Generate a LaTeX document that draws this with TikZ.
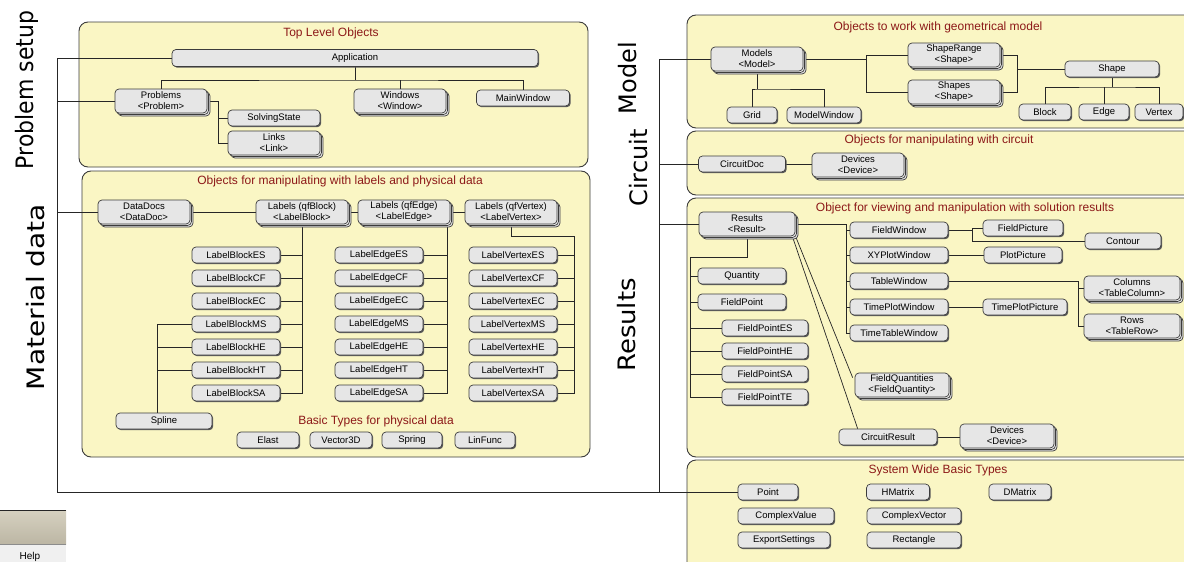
\documentclass[tikz,border=0pt]{standalone}
\usepackage{fontspec}
\setmainfont{Liberation Sans}
\newfontfamily\sidefont{DejaVu Sans}
\usetikzlibrary{shadows}
\pgfdeclarelayer{back}
\pgfdeclarelayer{lines}
\pgfsetlayers{back,lines,main}

\definecolor{panelfill}{RGB}{250,246,196}
\definecolor{boxfill}{RGB}{230,230,230}
\definecolor{edgegray}{RGB}{60,60,60}
\definecolor{titlered}{RGB}{140,24,24}

\tikzset{
  panel/.style={draw=edgegray, fill=panelfill, rounded corners=9pt, line width=0.9pt},
  ptitle/.style={text=titlered, font=\fontsize{12}{14}\selectfont},
  box/.style={draw=edgegray, fill=boxfill, rounded corners=4pt, line width=0.7pt,
    inner sep=1pt, minimum height=16pt, align=center, font=\fontsize{9.5}{11}\selectfont},
  obj/.style={box, drop shadow={shadow xshift=1.2pt, shadow yshift=-1.2pt, fill=black!65, opacity=1}},
  coll/.style={box, minimum height=24pt,
    double copy shadow={shadow xshift=1.5pt, shadow yshift=-1.5pt, fill=boxfill, draw=edgegray}},
  link/.style={draw=black!85, line width=0.7pt},
  side/.style={rotate=90, font=\sidefont\fontsize{24}{24}\selectfont}
}

\begin{document}
\begin{tikzpicture}[x=1pt,y=-1pt]
\useasboundingbox (0,0) rectangle (1184,562);

% panels
\begin{pgfonlayer}{back}
  \draw[panel] (79,22) rectangle (588,167);
  \draw[panel] (82,171) rectangle (590,457);
  \draw[panel] (687,15) rectangle (1200,128);
  \draw[panel] (687,131) rectangle (1200,195);
  \draw[panel] (687,198) rectangle (1200,457);
  \draw[panel] (687,460) rectangle (1200,580);
  % bit of a window bar
  \shade[top color={rgb,255:red,214;green,209;blue,192}, bottom color={rgb,255:red,188;green,182;blue,164}] (0,510) rectangle (66,544);
  \draw[black!85, line width=1pt] (0,510) -- (66,510);
  \fill[black!6] (0,544) rectangle (66,562);
  \draw[black!45] (0,544) -- (66,544);
\end{pgfonlayer}
\node[font=\fontsize{10}{10}\selectfont, anchor=base] (help) at (30,559.5) {Help};

% side labels
\node[side] (sprob) at (27,90) {\scalebox{0.915}[1]{Problem setup}};
\node[side] (smat) at (36,297) {\scalebox{1.17}[1]{Material data}};
\node[side] (smod) at (628,78) {Model};
\node[side] (scir) at (639,168) {Circuit};
\node[side] (sres) at (627,325) {\scalebox{1.08}[1]{Results}};

% titles
\node[ptitle] (ttop) at (331,33) {Top Level Objects};
\node[ptitle] (tlab) at (340,181) {Objects for manipulating with labels and physical data};
\node[ptitle] (tbas) at (376,421) {Basic Types for physical data};
\node[ptitle] (tgeo) at (938,27) {Objects to work with geometrical model};
\node[ptitle] (tcir) at (939,140) {Objects for manipulating with circuit};
\node[ptitle] (tres) at (965,208) {Object for viewing and manipulation with solution results};
\node[ptitle] (tsys) at (938,470) {System Wide Basic Types};

% top level objects
\node[obj, minimum width=366pt, minimum height=17pt] (app) at (355,58) {Application};
\node[coll, minimum width=92pt] (prob) at (161,101) {Problems\\<Problem>};
\node[coll, minimum width=92pt] (wins) at (400,101) {Windows\\<Window>};
\node[obj, minimum width=93pt] (mainw) at (523,98) {MainWindow};
\node[obj, minimum width=92pt] (solv) at (274,118) {SolvingState};
\node[coll, minimum width=92pt] (links) at (274,143) {Links\\<Link>};

% labels and physical data
\node[coll, minimum width=92pt] (dd) at (144,212) {DataDocs\\<DataDoc>};
\node[coll, minimum width=92pt] (lblk) at (302,212) {Labels (qfBlock)\\<LabelBlock>};
\node[coll, minimum width=92pt] (ledg) at (404,212) {Labels (qfEdge)\\<LabelEdge>};
\node[coll, minimum width=92pt] (lvtx) at (511,212) {Labels (qfVertex)\\<LabelVertex>};
\foreach \s [count=\i] in {ES,CF,EC,MS,HE,HT,SA} {
  \node[obj, minimum width=88pt] (lb\s) at (236,{232+23*\i}) {LabelBlock\s};
  \node[obj, minimum width=88pt] (le\s) at (379,{232+23*\i}) {LabelEdge\s};
  \node[obj, minimum width=88pt] (lv\s) at (513,{232+23*\i}) {LabelVertex\s};
}
\node[obj, minimum width=96pt] (spl) at (164,421) {Spline};
\node[obj, minimum width=62pt] (elast) at (268,440) {Elast};
\node[obj, minimum width=62pt] (vec) at (341,440) {Vector3D};
\node[obj, minimum width=60pt] (spring) at (412,440) {Spring};
\node[obj, minimum width=60pt] (linf) at (485,440) {LinFunc};

% geometrical model
\node[coll, minimum width=92pt] (models) at (757,59) {Models\\<Model>};
\node[obj, minimum width=50pt] (grid) at (752,115) {Grid};
\node[obj, minimum width=74pt] (mwin) at (824,115) {ModelWindow};
\node[coll, minimum width=92pt] (srange) at (954,55) {ShapeRange\\<Shape>};
\node[coll, minimum width=92pt] (shapes) at (954,92) {Shapes\\<Shape>};
\node[obj, minimum width=94pt] (shape) at (1112,69) {Shape};
\node[obj, minimum width=52pt] (blk) at (1045,112) {Block};
\node[obj, minimum width=50pt] (edg) at (1104,112) {Edge};
\node[obj, minimum width=48pt] (vtx) at (1159,112) {Vertex};

% circuit
\node[obj, minimum width=87pt] (cdoc) at (742,164) {CircuitDoc};
\node[coll, minimum width=92pt] (cdev) at (858,165) {Devices\\<Device>};

% results
\node[coll, minimum width=96pt] (res) at (747,224) {Results\\<Result>};
\node[obj, minimum width=98pt] (fwin) at (899,230) {FieldWindow};
\node[obj, minimum width=98pt] (xyw) at (899,255) {XYPlotWindow};
\node[obj, minimum width=98pt] (tabw) at (899,281) {TableWindow};
\node[obj, minimum width=98pt] (tpw) at (899,307) {TimePlotWindow};
\node[obj, minimum width=98pt] (ttw) at (899,333) {TimeTableWindow};
\node[obj, minimum width=80pt] (fpic) at (1023,228) {FieldPicture};
\node[obj, minimum width=76pt] (cont) at (1123,241) {Contour};
\node[obj, minimum width=78pt] (ppic) at (1023,255) {PlotPicture};
\node[coll, minimum width=96pt] (cols) at (1132,288) {Columns\\<TableColumn>};
\node[coll, minimum width=96pt] (rows) at (1132,326) {Rows\\<TableRow>};
\node[obj, minimum width=84pt] (tppic) at (1025,307) {TimePlotPicture};
\node[obj, minimum width=88pt] (qty) at (742,276) {Quantity};
\node[obj, minimum width=88pt] (fpt) at (742,302) {FieldPoint};
\foreach \s/\y in {ES/328,HE/351,SA/374,TE/397}
  \node[obj, minimum width=86pt] (fp\s) at (765,\y) {FieldPoint\s};
\node[coll, minimum width=94pt] (fq) at (902,385) {FieldQuantities\\<FieldQuantity>};
\node[obj, minimum width=98pt] (cres) at (888,437) {CircuitResult};
\node[coll, minimum width=94pt] (rdev) at (1007,436) {Devices\\<Device>};

% system wide types
\node[obj, minimum width=60pt] (pnt) at (768,492) {Point};
\node[obj, minimum width=63pt] (hmat) at (898,492) {HMatrix};
\node[obj, minimum width=62pt] (dmat) at (1020,492) {DMatrix};
\node[obj, minimum width=96pt] (cval) at (786,516) {ComplexValue};
\node[obj, minimum width=94pt] (cvec) at (914,516) {ComplexVector};
\node[obj, minimum width=92pt] (expo) at (784,540) {ExportSettings};
\node[obj, minimum width=94pt] (rect) at (914,540) {Rectangle};

% connectors
\begin{pgfonlayer}{lines}
  \coordinate (lbot) at (57,492);
  \coordinate (rbot) at (659,492);
  \draw[link] (app.west) -| (lbot) -- (pnt.west);
  \draw[link] (prob.west) -- (prob.west -| lbot);
  \draw[link] (dd.west) -- (dd.west -| lbot);
  \draw[link] (models.west) -| (rbot);
  \draw[link] (cdoc.west) -- (cdoc.west -| rbot);
  \draw[link] (res.west) -- (res.west -| rbot);

  \coordinate (tbus) at (355,80);
  \draw[link] (app.south) -- (tbus);
  \draw[link] (prob.north) |- (tbus) -| (mainw.north);
  \draw[link] (tbus -| wins.north) -- (wins.north);
  \coordinate (pbus) at (218,0);
  \draw[link] (prob.east) -- (prob.east -| pbus) |- (links.west);
  \draw[link] (pbus |- solv.west) -- (solv.west);

  \draw[link] (dd.east) -- (lblk.west);
  \draw[link] (lblk.east) -- (ledg.west);
  \draw[link] (ledg.east) -- (lvtx.west);
  \coordinate (ebus) at (447,0);
  \coordinate (vbus) at (574,236);
  \draw[link] (lblk.south) |- (lbSA.east);
  \draw[link] (ledg.south -| ebus) |- (leSA.east);
  \draw[link] (lvtx.south) |- (vbus) |- (lvSA.east);
  \foreach \s in {ES,CF,EC,MS,HE,HT} {
    \draw[link] (lblk.south |- lb\s.east) -- (lb\s.east);
    \draw[link] (ebus |- le\s.east) -- (le\s.east);
    \draw[link] (vbus |- lv\s.east) -- (lv\s.east);
  }
  \coordinate (sbus) at (157,0);
  \draw[link] (spl.north -| sbus) |- (lbMS.west);
  \foreach \s in {HE,HT}
    \draw[link] (sbus |- lb\s.west) -- (lb\s.west);

  \coordinate (mbus) at (757,89);
  \draw[link] (models.south) -- (mbus);
  \draw[link] (grid.north) |- (mbus) -| (mwin.north);
  \coordinate (sbus1) at (866,0);
  \coordinate (sbus2) at (1017,0);
  \draw[link] (models.east) -- (models.east -| sbus1);
  \draw[link] (srange.west) -| (sbus1 |- shapes.west) -- (shapes.west);
  \draw[link] (srange.east) -| (sbus2 |- shapes.east) -- (shapes.east);
  \draw[link] (sbus2 |- shape.west) -- (shape.west);
  \coordinate (shbus) at (1112,87);
  \draw[link] (shape.south) -- (shbus);
  \draw[link] (blk.north) |- (shbus) -| (vtx.north);
  \draw[link] (edg.north) -- (edg.north |- shbus);

  \draw[link] (cdoc.east) -- (cdoc.east -| cdev.west);

  \coordinate (wbus) at (846,0);
  \draw[link] (res.east) -| (wbus |- ttw.west) -- (ttw.west);
  \foreach \n in {fwin,xyw,tabw,tpw}
    \draw[link] (wbus |- \n.west) -- (\n.west);
  \coordinate (fbus) at (972,0);
  \draw[link] (fwin.east) -- (fwin.east -| fbus);
  \draw[link] (fpic.west) -| (fbus |- cont.west) -- (cont.west);
  \draw[link] (xyw.east) -- (xyw.east -| ppic.west);
  \coordinate (tbus2) at (1078,0);
  \draw[link] (tabw.east) -| (tbus2 |- rows.west) -- (rows.west);
  \draw[link] (tbus2 |- cols.west) -- (cols.west);
  \draw[link] (tpw.east) -- (tppic.west);
  \coordinate (qbus) at (690,257);
  \draw[link] (res.south) |- (qbus) |- (fpTE.west);
  \foreach \n in {qty,fpt,fpES,fpHE,fpSA}
    \draw[link] (qbus |- \n.west) -- (\n.west);
  \draw[link] ([xshift=-1pt,yshift=3pt]res.south east) -- ([xshift=-2pt,yshift=-5pt]fq.north west);
  \draw[link] ([xshift=-3pt]res.south east) -- ([xshift=19pt]cres.north west);
  \draw[link] (cres.east) -- (cres.east -| rdev.west);
\end{pgfonlayer}
\end{tikzpicture}
\end{document}
